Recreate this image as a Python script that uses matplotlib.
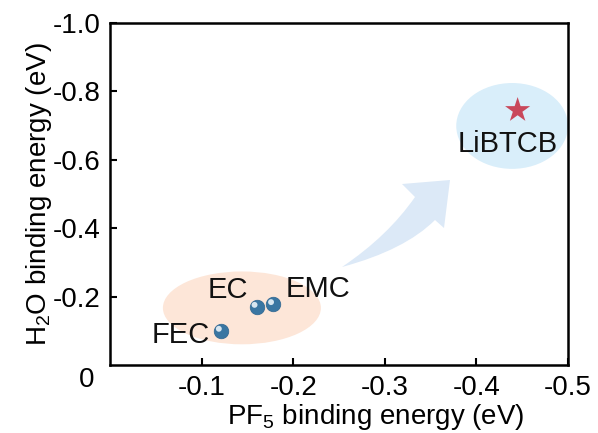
import matplotlib
matplotlib.use("Agg")
import matplotlib.pyplot as plt
from matplotlib.patches import Ellipse, PathPatch
from matplotlib.path import Path
from matplotlib.transforms import Affine2D

plt.rcParams['font.family'] = ['Liberation Sans', 'DejaVu Sans']
plt.rcParams['mathtext.fontset'] = 'custom'
plt.rcParams['mathtext.rm'] = 'Liberation Sans'
plt.rcParams['mathtext.it'] = 'Liberation Sans:italic'

# Binding energies (eV)
names = ["FEC", "EC", "EMC"]
pf5 = [-0.121, -0.160, -0.178]
h2o = [-0.100, -0.170, -0.178]
star_name = "LiBTCB"
star_pf5 = -0.445
star_h2o = -0.745

xticks = [-0.1, -0.2, -0.3, -0.4, -0.5]
yticks = [-0.2, -0.4, -0.6, -0.8, -1.0]

fs = 20

fig = plt.figure(figsize=(5.98, 4.33), dpi=100)
ax = fig.add_axes([110 / 598, 68 / 433, 458 / 598, 342 / 433])

ax.set_xlim(0, -0.5)
ax.set_ylim(0, -1.0)

# shaded groups
ax.add_patch(Ellipse((-0.144, -0.167), 0.1725, 0.213, facecolor="#fde6d8",
                     edgecolor="none", zorder=0))
ax.add_patch(Ellipse((-0.439, -0.699), 0.122, 0.251, facecolor="#d9eefa",
                     edgecolor="none", zorder=0))

# curved arrow, drawn in figure pixels (y down)
px = Affine2D().scale(1 / 598, -1 / 433).translate(0, 1) + fig.transFigure
verts = [(342, 267), (388, 236), (415, 197), (402, 184), (450, 180),
         (444, 228), (435, 220), (405, 250), (342, 267), (342, 267)]
codes = [Path.MOVETO, Path.CURVE3, Path.CURVE3, Path.LINETO, Path.LINETO,
         Path.LINETO, Path.LINETO, Path.CURVE3, Path.CURVE3, Path.CLOSEPOLY]
fig.patches.append(PathPatch(Path(verts, codes), facecolor="#dce9f7",
                             edgecolor="none", transform=px, zorder=1))

# spheres
ax.scatter(pf5, h2o, s=110, color="#3a76a2", edgecolor="#2f6690",
           linewidth=0.5, zorder=3)
ax.scatter(pf5, h2o, s=18, color="#d8e6f0", edgecolor="none", zorder=4,
           transform=ax.transData + Affine2D().translate(-2, 2))
ax.scatter([star_pf5], [star_h2o], marker="*", s=360, color="#c9485b",
           edgecolor="none", zorder=3)

offsets = {"FEC": (-8, -3, "right", "center"),
           "EC": (-6, 2, "right", "bottom"),
           "EMC": (9, 11, "left", "center")}
for n, xv, yv in zip(names, pf5, h2o):
    dx, dy, ha, va = offsets[n]
    ax.annotate(n, (xv, yv), xytext=(dx, dy), textcoords="offset points",
                ha=ha, va=va, fontsize=fs + 1, color="#111111", zorder=5)
ax.annotate(star_name, (star_pf5, star_h2o), xytext=(-7, -24),
            textcoords="offset points", ha="center", va="center",
            fontsize=fs + 1, color="#111111", zorder=5)

ax.set_xticks(xticks)
ax.set_xticklabels([f"{t:.1f}" for t in xticks])
ax.set_yticks(yticks)
ax.set_yticklabels([f"{t:.1f}" for t in yticks])
ax.text(-0.052, -0.044, "0", transform=ax.transAxes, ha="center", va="center",
        fontsize=fs)

ax.tick_params(direction="in", length=5, width=1.5, labelsize=fs, pad=7)
for s in ax.spines.values():
    s.set_linewidth(1.8)

ax.set_xlabel("PF$_5$ binding energy (eV)", fontsize=fs, labelpad=1, x=0.58)
ax.set_ylabel("H$_2$O binding energy (eV)", fontsize=fs, labelpad=-1)

fig.savefig("out.png", dpi=100)
